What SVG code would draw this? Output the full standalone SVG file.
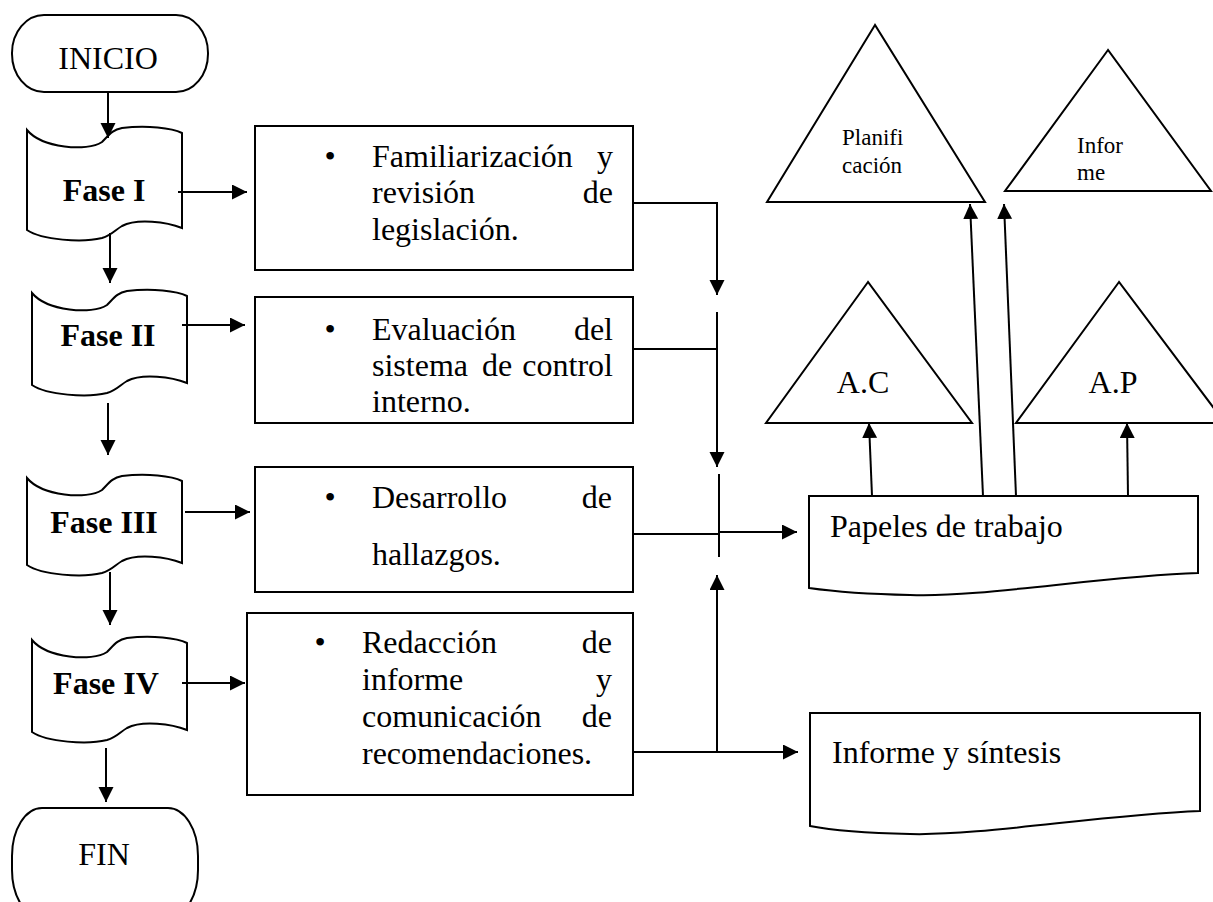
<svg xmlns="http://www.w3.org/2000/svg" width="1213" height="902" viewBox="0 0 1213 902">
<style>
.s{fill:#fff;stroke:#000;stroke-width:2}
.c{fill:none;stroke:#000;stroke-width:2}
text{font-family:"Liberation Serif","Times New Roman",serif;font-size:32px;fill:#000}
.r{text-anchor:end}
.m{text-anchor:middle}
.b{font-weight:bold}
.sm{font-size:23px}
</style>
<defs>
<marker id="ah" markerUnits="userSpaceOnUse" markerWidth="16" markerHeight="16" refX="15" refY="7.5" orient="auto">
<path d="M0,0 L15,7.5 L0,15 Z" fill="#000"/>
</marker>
</defs>
<rect width="1213" height="902" fill="#fff"/>

<g id="inicio">
<rect class="s" x="12" y="15" width="196" height="77" rx="32" ry="38"/>
<text class="m" x="108" y="69">INICIO</text>
</g>
<g id="fase1">
<path class="s" d="M27,130 c15,18 60,22 75,12 c7,-7 10,-12 20,-14 c25,-3 50,0 60,5 L182,228 c-15,-6 -45,-10 -60,-2 c-7,4 -10,9 -20,12 c-20,5 -60,2 -75,-8 Z"/>
<text class="m b" x="104" y="201">Fase I</text>
</g>
<g id="fase2">
<path class="s" d="M32,293 c15,18 60,22 75,12 c7,-7 10,-12 20,-14 c25,-3 50,0 60,5 L187,383 c-15,-6 -45,-10 -60,-2 c-7,4 -10,9 -20,12 c-20,5 -60,2 -75,-8 Z"/>
<text class="m b" x="108" y="346">Fase II</text>
</g>
<g id="fase3">
<path class="s" d="M27,478 c15,18 60,22 75,12 c7,-7 10,-12 20,-14 c25,-3 50,0 60,5 L182,563 c-15,-6 -45,-10 -60,-2 c-7,4 -10,9 -20,12 c-20,5 -60,2 -75,-8 Z"/>
<text class="m b" x="104" y="533">Fase III</text>
</g>
<g id="fase4">
<path class="s" d="M32,640 c15,18 60,22 75,12 c7,-7 10,-12 20,-14 c25,-3 50,0 60,5 L187,730 c-15,-6 -45,-10 -60,-2 c-7,4 -10,9 -20,12 c-20,5 -60,2 -75,-8 Z"/>
<text class="m b" x="106" y="694">Fase IV</text>
</g>
<g id="fin">
<rect class="s" x="12" y="808" width="186" height="110" rx="30" ry="48"/>
<text class="m" x="104" y="865">FIN</text>
</g>

<g id="box1">
<rect class="s" x="255" y="126" width="378" height="144"/>
<text class="m" x="330" y="167">•</text>
<text x="372" y="167">Familiarización</text>
<text class="r" x="613" y="167">y</text>
<text x="372" y="203">revisión</text>
<text class="r" x="613" y="203">de</text>
<text x="372" y="240">legislación.</text>
</g>
<g id="box2">
<rect class="s" x="255" y="297" width="378" height="126"/>
<text class="m" x="330" y="340">•</text>
<text x="372" y="340">Evaluación</text>
<text class="r" x="613" y="340">del</text>
<text x="372" y="376">sistema</text>
<text class="m" x="497" y="376">de</text>
<text class="r" x="613" y="376">control</text>
<text x="372" y="412">interno.</text>
</g>
<g id="box3">
<rect class="s" x="255" y="467" width="378" height="125"/>
<text class="m" x="330" y="508">•</text>
<text x="372" y="508">Desarrollo</text>
<text class="r" x="612" y="508">de</text>
<text x="372" y="565">hallazgos.</text>
</g>
<g id="box4">
<rect class="s" x="247" y="613" width="386" height="182"/>
<text class="m" x="320" y="653">•</text>
<text x="362" y="653">Redacción</text>
<text class="r" x="612" y="653">de</text>
<text x="362" y="690">informe</text>
<text class="r" x="612" y="690">y</text>
<text x="362" y="727">comunicación</text>
<text class="r" x="612" y="727">de</text>
<text x="362" y="764">recomendaciones.</text>
</g>

<g id="papeles">
<path class="s" d="M809,496 H1198 V573 C1100,576 980,598 910,595 C860,594 830,591 809,588 Z"/>
<text x="830" y="537">Papeles de trabajo</text>
</g>
<g id="informe-sintesis">
<path class="s" d="M810,713 H1200 V811 C1100,815 980,836 910,834 C860,833 830,830 810,826 Z"/>
<text x="832" y="763">Informe y síntesis</text>
</g>

<g id="planificacion">
<polygon class="s" points="875,25 767,202 985,202"/>
<text class="sm" x="842" y="145">Planifi</text>
<text class="sm" x="842" y="173">cación</text>
</g>
<g id="informe">
<polygon class="s" points="1108,50 1005,191 1211,191"/>
<text class="sm" x="1077" y="153">Infor</text>
<text class="sm" x="1077" y="180">me</text>
</g>
<g id="ac">
<polygon class="s" points="868,282 766,423 972,423"/>
<text class="m" x="863" y="393">A.C</text>
</g>
<g id="ap">
<polygon class="s" points="1119,282 1016,423 1225,423"/>
<text class="m" x="1113" y="393">A.P</text>
</g>

<g id="connectors" class="c">
<path class="c" d="M108,92 V138" marker-end="url(#ah)"/>
<path class="c" d="M110,233 V283" marker-end="url(#ah)"/>
<path class="c" d="M108,403 V455" marker-end="url(#ah)"/>
<path class="c" d="M110,572 V625" marker-end="url(#ah)"/>
<path class="c" d="M106,748 V802" marker-end="url(#ah)"/>
<path class="c" d="M178,192 H247" marker-end="url(#ah)"/>
<path class="c" d="M182,325 H245" marker-end="url(#ah)"/>
<path class="c" d="M185,512 H250" marker-end="url(#ah)"/>
<path class="c" d="M182,683 H245" marker-end="url(#ah)"/>
<path class="c" d="M633,203 H717 V295" marker-end="url(#ah)"/>
<path class="c" d="M633,349 H717"/>
<path class="c" d="M717,312 V467" marker-end="url(#ah)"/>
<path class="c" d="M633,534 H719"/>
<path class="c" d="M719,474 V557"/>
<path class="c" d="M719,532 H797" marker-end="url(#ah)"/>
<path class="c" d="M633,752 H798" marker-end="url(#ah)"/>
<path class="c" d="M717,752 V575" marker-end="url(#ah)"/>
<path class="c" d="M872,496 L869,423" marker-end="url(#ah)"/>
<path class="c" d="M1128,496 L1127,423" marker-end="url(#ah)"/>
<path class="c" d="M983,496 L970,204" marker-end="url(#ah)"/>
<path class="c" d="M1016,496 L1004,204" marker-end="url(#ah)"/>
</g>
</svg>
